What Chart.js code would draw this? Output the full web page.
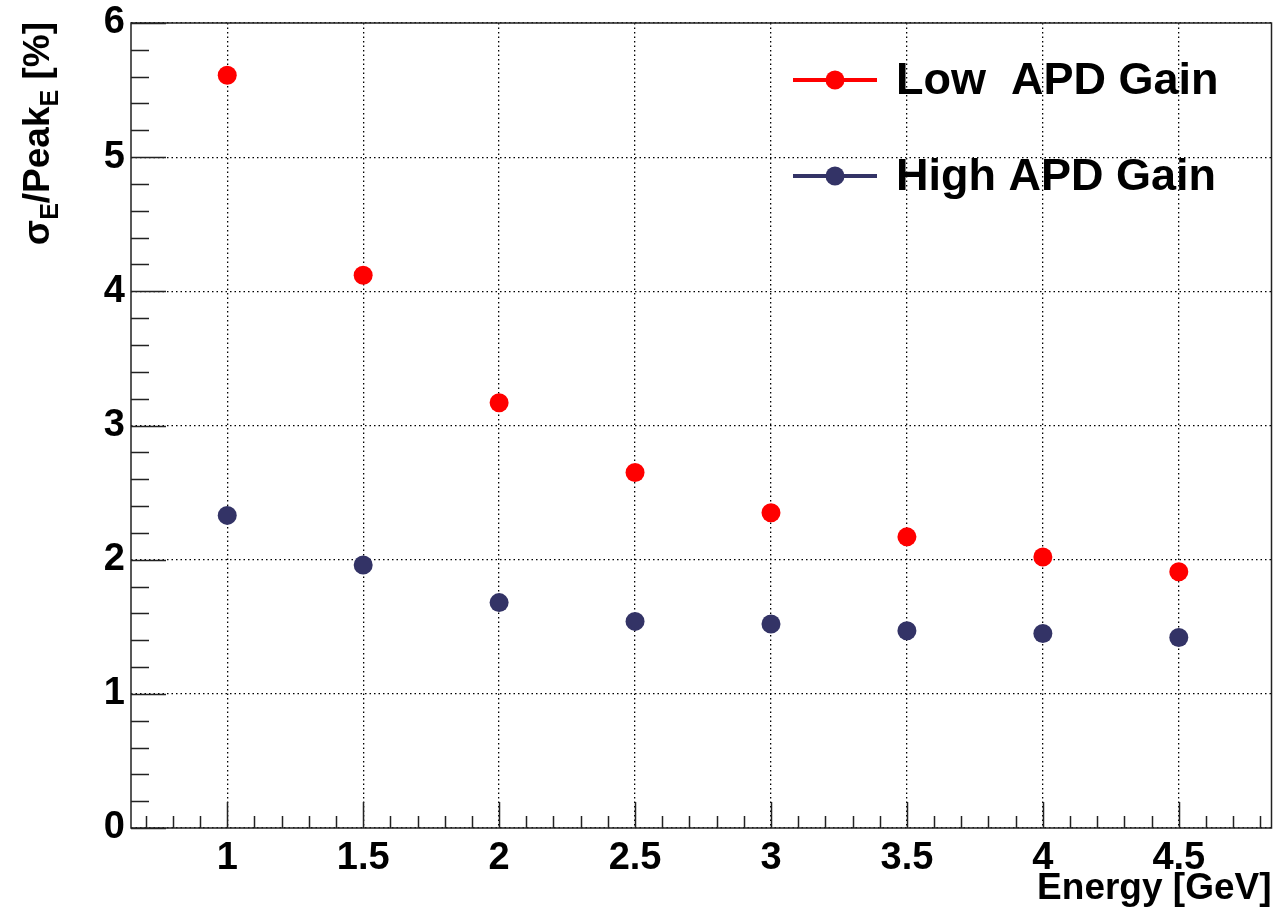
<!DOCTYPE html>
<html>
<head>
<meta charset="utf-8">
<script src="https://cdn.jsdelivr.net/npm/chart.js@4/dist/chart.umd.min.js"></script>
<style>
  body { margin: 0; background: #fff; }
  #wrap { width: 1281px; height: 913px; }
</style>
</head>
<body>
<div id="wrap"><canvas id="chart"></canvas></div>
<script>
// energies in GeV
const energy = [1, 1.5, 2, 2.5, 3, 3.5, 4, 4.5];
// sigma_E / Peak_E in %
const lowGain = [5.61, 4.12, 3.17, 2.65, 2.35, 2.17, 2.02, 1.91];
const highGain = [2.33, 1.96, 1.68, 1.54, 1.52, 1.47, 1.45, 1.42];

const xTicks = [1, 1.5, 2, 2.5, 3, 3.5, 4, 4.5];
const yTicks = [0, 1, 2, 3, 4, 5, 6];

const xMin = 0.646, xMax = 4.841;
const yMin = 0, yMax = 6;

const RED = "#ff0000";
const BLUE = "#333366";
const FONT = "'Liberation Sans', Arial, Helvetica, sans-serif";

const toPoints = (ys) => energy.map((x, i) => ({ x: x, y: ys[i] }));

// ROOT-like frame, inner ticks, axis titles and legend
const rootStyle = {
  id: "rootStyle",
  afterDraw(chart) {
    const ctx = chart.ctx;
    const a = chart.chartArea;
    const xs = chart.scales.x;
    const ys = chart.scales.y;
    ctx.save();

    // frame
    ctx.strokeStyle = "#222";
    ctx.lineWidth = 1.5;
    ctx.strokeRect(a.left, a.top, a.right - a.left, a.bottom - a.top);

    // x ticks (minor every 0.1, major every 0.5)
    ctx.beginPath();
    for (let v = Math.ceil(xMin * 10) / 10; v <= xMax + 1e-9; v += 0.1) {
      const vv = Math.round(v * 10) / 10;
      const px = Math.round(xs.getPixelForValue(vv)) + 0.5;
      const major = Math.abs(vv * 2 - Math.round(vv * 2)) < 1e-6;
      ctx.moveTo(px, a.bottom);
      ctx.lineTo(px, a.bottom - (major ? 26 : 12));
    }
    // y ticks (minor every 0.2, major every 1)
    for (let v = yMin; v <= yMax + 1e-9; v += 0.2) {
      const vv = Math.round(v * 10) / 10;
      const py = Math.round(ys.getPixelForValue(vv)) + 0.5;
      const major = Math.abs(vv - Math.round(vv)) < 1e-6;
      ctx.moveTo(a.left, py);
      ctx.lineTo(a.left + (major ? 35 : 18), py);
    }
    ctx.stroke();

    ctx.fillStyle = "#000";

    // x title, right aligned with the frame
    ctx.font = "bold 37px " + FONT;
    ctx.textAlign = "right";
    ctx.textBaseline = "alphabetic";
    ctx.fillText("Energy [GeV]", a.right, 899);

    // y title with subscripts, rotated
    const parts = [
      ["σ", 37, 0], ["E", 25, 9], ["/Peak", 37, 0], ["E", 25, 9], [" [%]", 37, 0]
    ];
    let total = 0;
    parts.forEach(p => { ctx.font = "bold " + p[1] + "px " + FONT; total += ctx.measureText(p[0]).width; });
    ctx.translate(49, a.top - 1);
    ctx.rotate(-Math.PI / 2);
    ctx.textAlign = "left";
    let cx = -total;
    parts.forEach(p => {
      ctx.font = "bold " + p[1] + "px " + FONT;
      ctx.fillText(p[0], cx, p[2]);
      cx += ctx.measureText(p[0]).width;
    });
    ctx.setTransform(1, 0, 0, 1, 0, 0);

    // legend
    const rows = [
      { label: "Low  APD Gain", color: RED, y: 80 },
      { label: "High APD Gain", color: BLUE, y: 176 }
    ];
    rows.forEach(r => {
      ctx.strokeStyle = r.color;
      ctx.lineWidth = 4;
      ctx.beginPath();
      ctx.moveTo(793, r.y);
      ctx.lineTo(877, r.y);
      ctx.stroke();
      ctx.fillStyle = r.color;
      ctx.beginPath();
      ctx.arc(835, r.y, 9.5, 0, Math.PI * 2);
      ctx.fill();
      ctx.fillStyle = "#000";
      ctx.font = "bold 45px " + FONT;
      ctx.textAlign = "left";
      ctx.textBaseline = "middle";
      ctx.fillText(r.label, 896, r.y + 2);
    });

    ctx.restore();
  }
};

const chart = new Chart(document.getElementById("chart"), {
  type: "scatter",
  data: {
    datasets: [
      {
        label: "Low  APD Gain",
        data: toPoints(lowGain),
        backgroundColor: RED,
        borderColor: RED,
        pointRadius: 9.5,
        borderWidth: 0,
        showLine: false,
      },
      {
        label: "High APD Gain",
        data: toPoints(highGain),
        backgroundColor: BLUE,
        borderColor: BLUE,
        pointRadius: 9.5,
        borderWidth: 0,
        showLine: false,
      },
    ],
  },
  options: {
    responsive: true,
    maintainAspectRatio: false,
    animation: false,
    layout: { padding: { left: 0, top: 23, right: 9, bottom: 0 } },
    plugins: {
      legend: { display: false },
      tooltip: { enabled: false },
    },
    scales: {
      x: {
        type: "linear",
        min: xMin,
        max: xMax,
        afterBuildTicks: (s) => { s.ticks = xTicks.map(v => ({ value: v })); },
        afterFit: (s) => { s.height = 85; s.paddingLeft = 0; s.paddingRight = 0; },
        grid: { color: "#000", lineWidth: 1.3, drawTicks: false },
        border: { display: false, dash: [1.5, 3] },
        ticks: {
          padding: 8,
          color: "#000",
          font: { family: FONT, size: 38, weight: "bold" },
          maxRotation: 0,
          callback: (v) => String(v),
        },
      },
      y: {
        type: "linear",
        min: yMin,
        max: yMax,
        afterBuildTicks: (s) => { s.ticks = yTicks.map(v => ({ value: v })); },
        afterFit: (s) => { s.width = 131; s.paddingTop = 0; s.paddingBottom = 0; },
        grid: { color: "#000", lineWidth: 1.3, drawTicks: false },
        border: { display: false, dash: [1.5, 3] },
        ticks: {
          padding: 6,
          color: "#000",
          font: { family: FONT, size: 38, weight: "bold" },
          callback: (v) => String(v),
        },
      },
    },
  },
  plugins: [rootStyle],
});
</script>
</body>
</html>
